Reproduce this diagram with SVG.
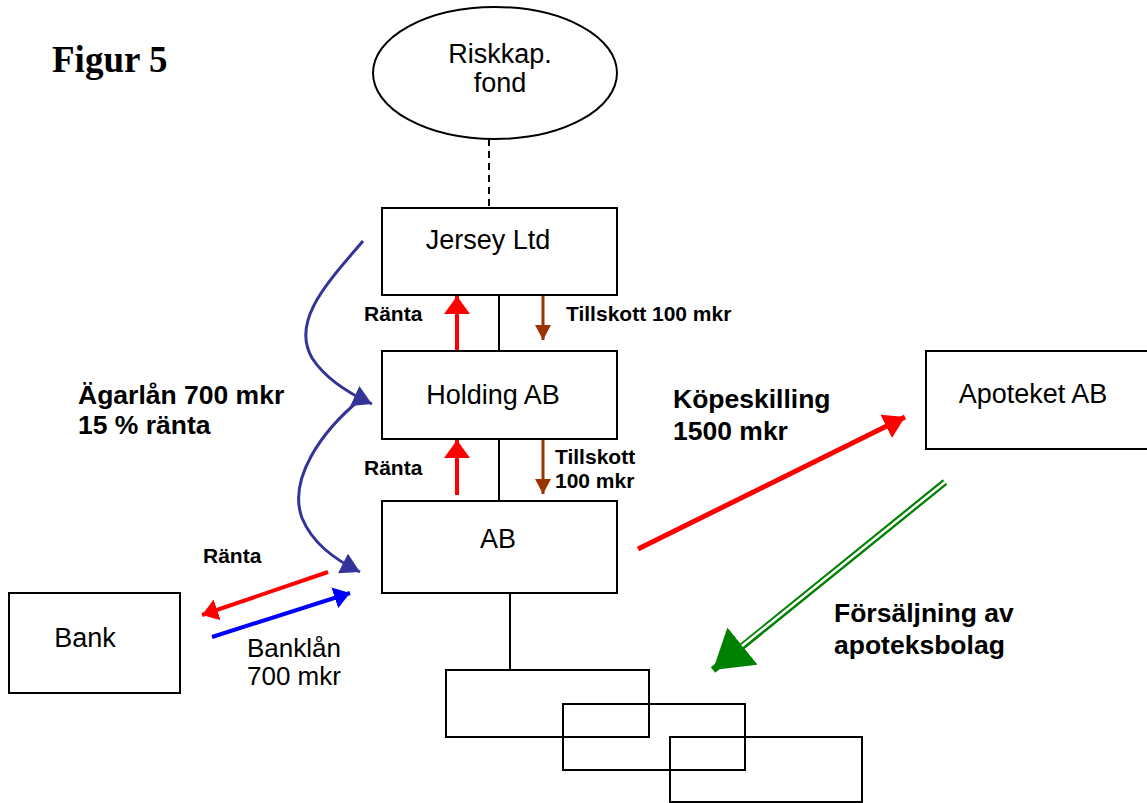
<svg xmlns="http://www.w3.org/2000/svg" width="1147" height="803" viewBox="0 0 1147 803">
<style>
.box{fill:#fff;stroke:#000;stroke-width:2}
.ln{stroke:#000;stroke-width:2;fill:none}
.t{font-family:"Liberation Sans",Arial,sans-serif;font-size:27px;fill:#000}
.b{font-family:"Liberation Sans",Arial,sans-serif;font-weight:bold;fill:#000}
.s{font-size:21px}
.m{font-size:26.5px}
</style>
<defs>
<marker id="hRed" markerUnits="userSpaceOnUse" markerWidth="26" markerHeight="26" refX="18" refY="13" orient="auto"><path d="M0,0 L18,13 L0,26 Z" fill="#ff0000"/></marker>
<marker id="hRedS" markerUnits="userSpaceOnUse" markerWidth="20" markerHeight="22" refX="16" refY="11" orient="auto"><path d="M0,0 L16,11 L0,22 Z" fill="#ff0000"/></marker>
<marker id="hRedL" markerUnits="userSpaceOnUse" markerWidth="24" markerHeight="26" refX="21" refY="13" orient="auto"><path d="M0,0 L21,13 L0,26 Z" fill="#ff0000"/></marker>
<marker id="hBrown" markerUnits="userSpaceOnUse" markerWidth="16" markerHeight="16" refX="15" refY="8" orient="auto"><path d="M0,0 L15,8 L0,16 Z" fill="#993300"/></marker>
<marker id="hBlue" markerUnits="userSpaceOnUse" markerWidth="20" markerHeight="22" refX="16" refY="11" orient="auto"><path d="M0,0 L16,11 L0,22 Z" fill="#0000ff"/></marker>
<marker id="hNavy" markerUnits="userSpaceOnUse" markerWidth="22" markerHeight="22" refX="19" refY="11" orient="auto"><path d="M0,0 L19,11 L0,22 Z" fill="#333399"/></marker>
<marker id="hGreen" markerUnits="userSpaceOnUse" markerWidth="50" markerHeight="50" refX="38" refY="24" orient="auto"><path d="M0,0 L38,24 L0,48 Z" fill="#008000"/></marker>
</defs>

<text x="52" y="72" style="font-family:'Liberation Serif','Times New Roman',serif;font-weight:bold;font-size:37px;fill:#000">Figur 5</text>

<g id="connectors">
<line class="ln" x1="489" y1="139" x2="489" y2="208" stroke-dasharray="7,5"/>
<line class="ln" x1="499" y1="295" x2="499" y2="351"/>
<line class="ln" x1="499" y1="439" x2="499" y2="506"/>
<line class="ln" x1="510" y1="594" x2="510" y2="670"/>
<line x1="457" y1="351" x2="457" y2="296" stroke="#ff0000" stroke-width="4" marker-end="url(#hRed)"/>
<line x1="457" y1="495" x2="457" y2="440" stroke="#ff0000" stroke-width="4" marker-end="url(#hRed)"/>
<line x1="543" y1="296" x2="543" y2="340" stroke="#993300" stroke-width="3" marker-end="url(#hBrown)"/>
<line x1="543" y1="440" x2="543" y2="494" stroke="#993300" stroke-width="3" marker-end="url(#hBrown)"/>
<path d="M363,241 C330,280 290,320 312,358 C325,378 348,393 372,404" fill="none" stroke="#333399" stroke-width="3" marker-end="url(#hNavy)"/>
<path d="M362,398 C320,432 288,480 302,518 C312,542 332,558 360,572" fill="none" stroke="#333399" stroke-width="3" marker-end="url(#hNavy)"/>
<line x1="328" y1="572" x2="202" y2="615" stroke="#ff0000" stroke-width="4" marker-end="url(#hRedS)"/>
<line x1="212" y1="637" x2="350" y2="593" stroke="#0000ff" stroke-width="4" marker-end="url(#hBlue)"/>
<line x1="638" y1="549" x2="905" y2="417" stroke="#ff0000" stroke-width="5" marker-end="url(#hRedL)"/>
<line x1="945" y1="482" x2="713" y2="670" stroke="#008000" stroke-width="7" marker-end="url(#hGreen)"/>
<line x1="945" y1="482" x2="742" y2="646" stroke="#ffffff" stroke-width="2.5"/>
</g>

<g id="riskkap">
<ellipse class="box" cx="495" cy="73" rx="122" ry="66"/>
<text class="t" x="500" y="63" text-anchor="middle">Riskkap.</text>
<text class="t" x="500" y="92" text-anchor="middle">fond</text>
</g>
<g id="jersey">
<rect class="box" x="382" y="208" width="235" height="87"/>
<text class="t" x="488" y="249" text-anchor="middle">Jersey Ltd</text>
</g>
<g id="holding">
<rect class="box" x="382" y="351" width="235" height="88"/>
<text class="t" x="493" y="404" text-anchor="middle">Holding AB</text>
</g>
<g id="ab">
<rect class="box" x="382" y="501" width="235" height="92"/>
<text class="t" x="498" y="548" text-anchor="middle">AB</text>
</g>
<g id="bank">
<rect class="box" x="9" y="593" width="171" height="100"/>
<text class="t" x="85" y="647" text-anchor="middle">Bank</text>
</g>
<g id="apoteket">
<rect class="box" x="926" y="351" width="230" height="98"/>
<text class="t" x="1033" y="403" text-anchor="middle">Apoteket AB</text>
</g>
<g id="sub1"><rect x="446" y="670" width="203" height="67" fill="none" stroke="#000" stroke-width="2"/></g>
<g id="sub2"><rect x="563" y="704" width="182" height="66" fill="none" stroke="#000" stroke-width="2"/></g>
<g id="sub3"><rect x="670" y="737" width="192" height="65" fill="none" stroke="#000" stroke-width="2"/></g>

<g id="labels">
<text class="b s" x="364" y="321">Ränta</text>
<text class="b s" x="566" y="321">Tillskott 100 mkr</text>
<text class="b s" x="364" y="475">Ränta</text>
<text class="b s" x="555" y="464">Tillskott</text>
<text class="b s" x="555" y="488">100 mkr</text>
<text class="b s" x="203" y="563">Ränta</text>
<text class="b m" x="78" y="404">Ägarlån 700 mkr</text>
<text class="b m" x="78" y="434">15 % ränta</text>
<text class="b m" x="673" y="408">Köpeskilling</text>
<text class="b m" x="673" y="440">1500 mkr</text>
<text class="b m" x="834" y="622">Försäljning av</text>
<text class="b m" x="834" y="654">apoteksbolag</text>
<text class="t" x="247" y="657" style="font-size:26px">Banklån</text>
<text class="t" x="247" y="685" style="font-size:26px">700 mkr</text>
</g>
</svg>
